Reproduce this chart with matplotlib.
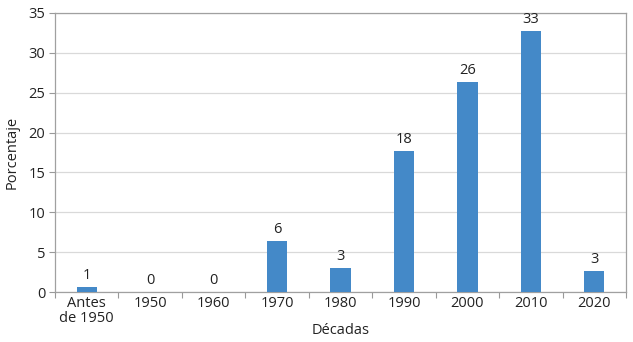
import matplotlib
matplotlib.use("Agg")
import matplotlib.pyplot as plt
import numpy as np

categories = ["Antes\nde 1950", "1950", "1960", "1970", "1980", "1990", "2000", "2010", "2020"]
values = [0.6, 0.0, 0.0, 6.35, 3.05, 17.7, 26.35, 32.7, 2.6]
labels = ["1", "0", "0", "6", "3", "18", "26", "33", "3"]
yticks = [0, 5, 10, 15, 20, 25, 30, 35]

plt.rcParams['font.family'] = ['Open Sans', 'DejaVu Sans']
fig = plt.figure(figsize=(6.33, 3.42), dpi=100)
ax = fig.add_axes([55/633, 1 - 292/342, (626-55)/633, (292-13)/342])

x = np.arange(len(categories))
bars = ax.bar(x, values, width=0.32, color="#4489c8", zorder=3)
for xi, v, lab in zip(x, values, labels):
    ax.text(xi, v + 0.5, lab, ha="center", va="bottom", fontsize=10.5, color="#222222")

ax.set_xlim(-0.5, len(categories) - 0.5)
ax.set_ylim(0, 35)
ax.set_yticks(yticks)
ax.set_yticklabels([str(t) for t in yticks], fontsize=10.5, color="#222222")
ax.set_xticks(x)
ax.set_xticklabels(categories, fontsize=10.5, color="#222222", linespacing=0.95)
ax.tick_params(axis="x", length=0, pad=3)
ax.set_xticks(np.arange(-0.5, len(categories)), minor=True)
ax.tick_params(axis="x", which="minor", length=4, color="#999999", width=0.8)
ax.tick_params(axis="y", length=4, color="#999999", width=0.8, pad=3)
ax.grid(axis="y", color="#d9d9d9", linewidth=0.9, zorder=0)
for s in ax.spines.values():
    s.set_color("#a0a0a0")
    s.set_linewidth(0.9)
ax.set_ylabel("Porcentaje", fontsize=10.5, color="#222222", labelpad=6)
ax.set_xlabel("Décadas", fontsize=10.5, color="#222222")
ax.xaxis.set_label_coords(0.5, -(330 - 292) / 279, transform=ax.transAxes)
ax.xaxis.label.set_va("center")

fig.savefig("out.png", dpi=100)
